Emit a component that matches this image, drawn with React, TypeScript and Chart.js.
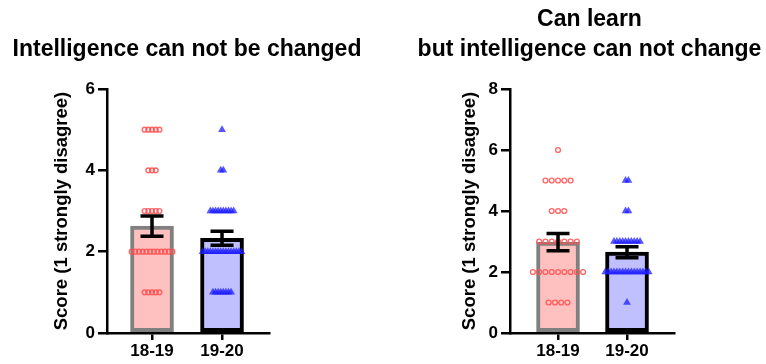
import React, { useEffect, useRef } from "react";
import { Chart, registerables } from "chart.js";

Chart.register(...registerables);

// ---------- data ----------
const categories = ["18-19", "19-20"];
const yAxisTitle = "Score (1 strongly disagree)";

const fixedTitle = ["Intelligence can not be changed"];
const fixedMeans = [2.63, 2.33];
const fixedSems = [0.25, 0.17];
const fixed1819 = [5, 5, 5, 5, 5, 4, 4, 4, 3, 3, 3, 3, 3, 2, 2, 2, 2, 2, 2, 2, 2, 2, 2, 2, 2, 1, 1, 1, 1, 1];
const fixed1920 = [5, 4, 4, 3, 3, 3, 3, 3, 3, 3, 3, 3, 3, 2, 2, 2, 2, 2, 2, 2, 2, 2, 2, 2, 2, 2, 2, 2, 2, 1, 1, 1, 1, 1, 1, 1, 1];
const fixedYTicks = [0, 2, 4, 6];

const learnTitle = ["Can learn", "but intelligence can not change"];
const learnMeans = [2.98, 2.65];
const learnSems = [0.28, 0.18];
const learn1819 = [6, 5, 5, 5, 5, 5, 4, 4, 4, 3, 3, 3, 3, 3, 3, 3, 2, 2, 2, 2, 2, 2, 2, 2, 2, 1, 1, 1, 1];
const learn1920 = [5, 5, 4, 4, 3, 3, 3, 3, 3, 3, 3, 3, 3, 3, 2, 2, 2, 2, 2, 2, 2, 2, 2, 2, 2, 2, 2, 2, 2, 2, 1];
const learnYTicks = [0, 2, 4, 6, 8];

// ---------- helpers ----------
const FONT = "'Liberation Sans', Arial, Helvetica, sans-serif";

function spread(scores: number[], group: number, step: number) {
  const counts = new Map<number, number>();
  scores.forEach((s) => counts.set(s, (counts.get(s) || 0) + 1));
  const seen = new Map<number, number>();
  return scores.map((s) => {
    const n = counts.get(s) as number;
    const k = seen.get(s) || 0;
    seen.set(s, k + 1);
    return { x: group + (k - (n - 1) / 2) * step, y: s };
  });
}

const errorBarsPlugin = {
  id: "errorBars",
  afterDatasetsDraw(chart: any, _args: any, opts: any) {
    const { ctx } = chart;
    const x = chart.scales.x;
    const y = chart.scales.y;
    const means: number[] = opts.means || [];
    const sems: number[] = opts.sems || [];
    const half = (opts.capWidth || 22) / 2;
    ctx.save();
    ctx.strokeStyle = "#000";
    ctx.lineWidth = opts.lineWidth || 3.5;
    ctx.lineCap = "butt";
    means.forEach((m, i) => {
      const cx = x.getPixelForValue(i);
      const top = y.getPixelForValue(m + sems[i]);
      const bot = y.getPixelForValue(m - sems[i]);
      ctx.beginPath();
      ctx.moveTo(cx, top);
      ctx.lineTo(cx, bot);
      ctx.moveTo(cx - half, top);
      ctx.lineTo(cx + half, top);
      ctx.moveTo(cx - half, bot);
      ctx.lineTo(cx + half, bot);
      ctx.stroke();
    });
    ctx.restore();
  },
};

interface PanelProps {
  title: string[];
  means: number[];
  sems: number[];
  a: number[];
  b: number[];
  yTicks: number[];
  yMax: number;
  xMin: number;
  xMax: number;
  circleStep: number;
  triStep: number;
  yWidth: number;
  yTitlePad: number;
  padRight: number;
  titleTop: number;
  titleBottom: number;
  titleLineHeight: number;
  width: number;
  height: number;
  left: number;
}

function Panel(p: PanelProps) {
  const ref = useRef<HTMLCanvasElement | null>(null);
  useEffect(() => {
    if (!ref.current) return;
    const chart = new Chart(ref.current, {
      type: "bar",
      data: {
        datasets: [
          {
            type: "bar",
            data: p.means.map((m, i) => ({ x: i, y: m })),
            backgroundColor: ["#ffc0c0", "#c0c0ff"],
            borderColor: ["#808080", "#000000"],
            borderWidth: 4,
            borderSkipped: false,
            barThickness: 43,
            order: 2,
          } as any,
          {
            type: "scatter",
            data: spread(p.a, 0, p.circleStep),
            pointStyle: "circle",
            pointRadius: 2.4,
            borderWidth: 1.4,
            borderColor: "rgba(255,80,80,0.85)",
            backgroundColor: "rgba(255,255,255,0)",
            order: 1,
          } as any,
          {
            type: "scatter",
            data: spread(p.b, 1, p.triStep),
            pointStyle: "triangle",
            pointRadius: 4.5,
            borderWidth: 0,
            backgroundColor: "rgba(30,30,255,0.75)",
            order: 1,
          } as any,
        ],
      },
      options: {
        animation: false,
        responsive: false,
        devicePixelRatio: 1,
        events: [],
        layout: { padding: { left: 0, right: 0, top: 0, bottom: 1 } },
        plugins: {
          legend: { display: false },
          tooltip: { enabled: false },
          title: {
            display: true,
            text: p.title,
            color: "#000",
            font: { family: FONT, size: 23, weight: "bold", lineHeight: p.titleLineHeight },
            padding: { top: p.titleTop, bottom: p.titleBottom },
          },
          errorBars: { means: p.means, sems: p.sems, capWidth: 23, lineWidth: 3.5 },
        } as any,
        scales: {
          x: {
            type: "linear",
            offset: false,
            min: p.xMin,
            max: p.xMax,
            afterBuildTicks: (s: any) => {
              s.ticks = categories.map((_, i) => ({ value: i }));
            },
            ticks: {
              callback: (v: any) => categories[v] ?? "",
              color: "#000",
              font: { family: FONT, size: 17, weight: "bold", lineHeight: 1.0 },
              padding: 3,
              autoSkip: false,
              maxRotation: 0,
            },
            grid: { offset: false, drawOnChartArea: false, drawTicks: true, tickLength: 7, color: "#000", lineWidth: 2.5 },
            border: { color: "#000", width: 2.5 },
          },
          y: {
            type: "linear",
            position: "left",
            min: 0,
            max: p.yMax,
            afterBuildTicks: (s: any) => {
              s.ticks = p.yTicks.map((v) => ({ value: v }));
            },
            afterFit: (s: any) => {
              s.width = p.yWidth;
            },
            ticks: {
              color: "#000",
              font: { family: FONT, size: 17, weight: "bold" },
              padding: 3,
            },
            grid: { drawOnChartArea: false, drawTicks: true, tickLength: 9, color: "#000", lineWidth: 2.5 },
            border: { color: "#000", width: 2.5 },
            title: {
              display: true,
              text: yAxisTitle,
              color: "#000",
              font: { family: FONT, size: 18.5, weight: "bold" },
              padding: { top: p.yTitlePad, bottom: 4 },
            },
          },
          spacer: {
            type: "linear",
            position: "right",
            display: true,
            grid: { display: false, drawTicks: false },
            ticks: { display: false },
            border: { display: false },
            afterFit: (s: any) => {
              s.width = p.padRight;
            },
          },
        } as any,
      },
      plugins: [errorBarsPlugin as any],
    });
    return () => chart.destroy();
  }, []);
  return (
    <canvas
      ref={ref}
      width={p.width}
      height={p.height}
      style={{ position: "absolute", left: p.left, top: 0, width: p.width, height: p.height }}
    />
  );
}

export default function App() {
  return (
    <div style={{ position: "fixed", left: 0, top: 0, width: 766, height: 364, background: "#fff" }}>
      <Panel
        title={fixedTitle}
        means={fixedMeans}
        sems={fixedSems}
        a={fixed1819}
        b={fixed1920}
        yTicks={fixedYTicks}
        yMax={6}
        xMin={-0.643}
        xMax={1.671}
        circleStep={0.053}
        triStep={0.037}
        yWidth={107}
        yTitlePad={51}
        padRight={105}
        titleTop={34}
        titleBottom={22.8}
        titleLineHeight={1.4}
        width={374}
        height={364}
        left={0}
      />
      <Panel
        title={learnTitle}
        means={learnMeans}
        sems={learnSems}
        a={learn1819}
        b={learn1920}
        yTicks={learnYTicks}
        yMax={8}
        xMin={-0.696}
        xMax={1.681}
        circleStep={0.091}
        triStep={0.042}
        yWidth={97}
        yTitlePad={46}
        padRight={92}
        titleTop={5}
        titleBottom={24}
        titleLineHeight={1.304}
        width={353}
        height={364}
        left={413}
      />
    </div>
  );
}
